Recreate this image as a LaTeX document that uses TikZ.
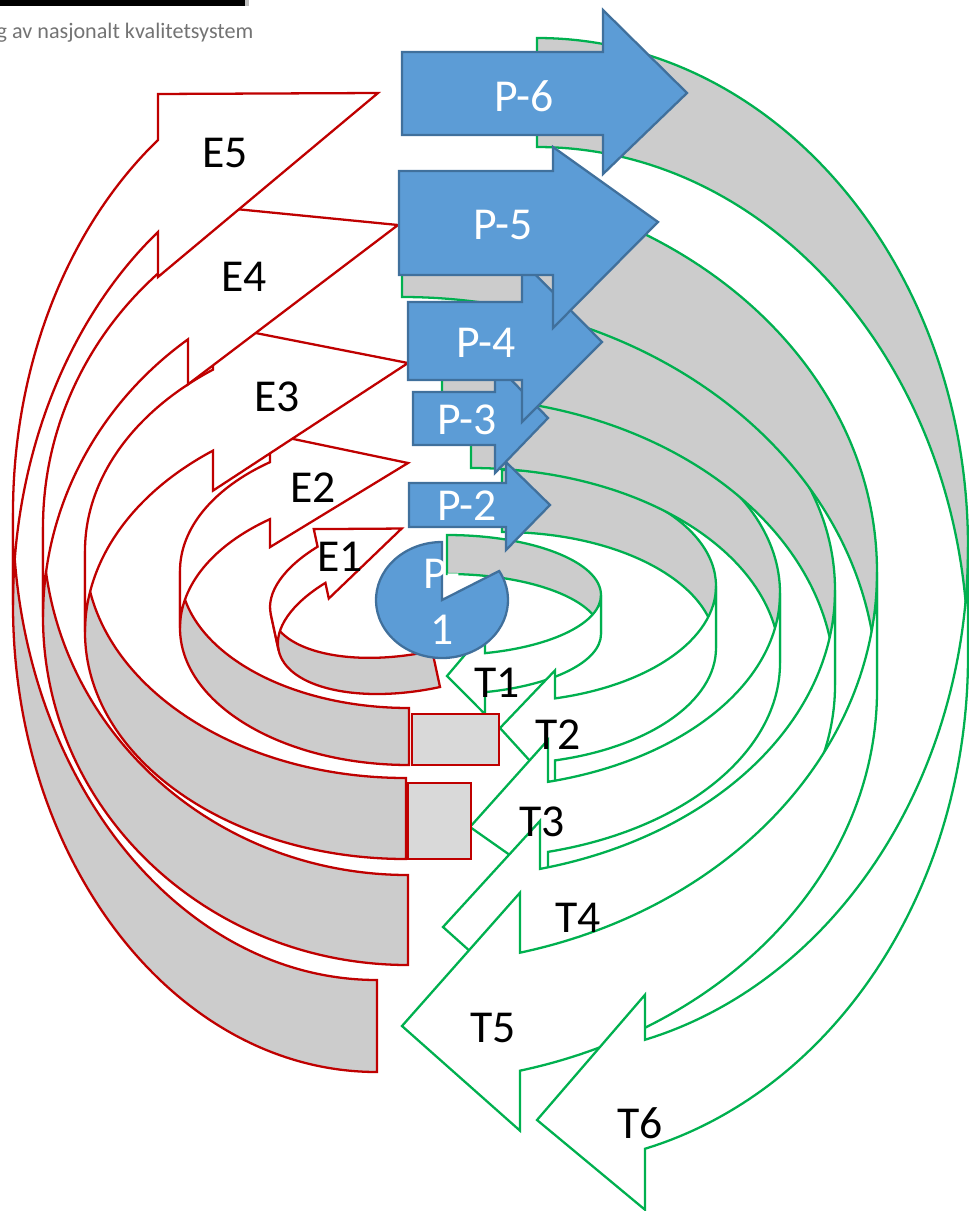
\documentclass[tikz,border=0pt]{standalone}
\usepackage{fontspec}
\setmainfont{Carlito}
\usepackage{tikz}
\usetikzlibrary{calc}
\definecolor{ribgreen}{rgb}{0.0, 0.69, 0.31}
\definecolor{ribred}{rgb}{0.75, 0.0, 0.0}
\definecolor{ribback}{rgb}{0.8, 0.8, 0.8}
\definecolor{capgray}{rgb}{0.85, 0.85, 0.85}
\definecolor{stepblue}{rgb}{0.36, 0.61, 0.84}
\definecolor{stepedge}{rgb}{0.25, 0.44, 0.61}
\tikzset{
  back/.style={fill=ribback, line width=0.65pt},
  front/.style={fill=white, line width=0.65pt},
  pstep/.style={fill=stepblue, draw=stepedge, line width=0.65pt},
  plabel/.style={text=white, inner sep=0pt, font=\fontsize{13}{16}\selectfont},
  rlabel/.style={inner sep=0pt, font=\fontsize{13}{16}\selectfont},
}

\begin{document}
\begin{tikzpicture}[x=0.1mm, y=-0.1mm]
  \useasboundingbox (0,0) rectangle (968,1211);

  \fill[black] (0,0) rectangle (245,6);
  \fill[black!25] (245,0) rectangle (249,6);
  \node[anchor=west, text=black!55, inner sep=0pt, font=\fontsize{6.3}{7}\selectfont] (head) at (-4,33) {g av nasjonalt kvalitetsystem};

  % ribbons: x / y / rotation / x radius / y radius / width / head base / tip x / tip y / head in / head out / colour
  \foreach \cx/\cy/\rot/\rx/\ry/\bw/\hx/\tipx/\tipy/\du/\dl/\col in
  {
    447/535/0/154/60/39/38/0/141/22/22/ribgreen,
    502/470/0/214/116/62/53/-2/258/28/28/ribgreen,
    471/398/0/309/195/70/77/-1/429/42/30/ribgreen,
    442/302/0/393/288/95/98/1/625/48/50/ribgreen,
    402/179/0/475/393/118/118/0/847/60/60/ribgreen,
    537/38/0/431/509/109/108/0/1082/45/61/ribgreen,
    440/687/192.2/150/70/37/90/4/163/16/18/ribred,
    409/765/180/229/137/57/139/1/302/28/28/ribred,
    406/859/180/321/227/81/193/-2/496/40/45/ribred,
    408/965/180/365/348/90/220/10/740/45/45/ribred,
    377/1072/180/364/467/92/219/-1/979/45/46/ribred}
  {
    \pgfmathsetmacro\ang{acos(\hx/\rx)}
    \pgfmathsetmacro\hy{\ry*(1+sin(\ang))}
    \begin{scope}[shift={(\cx,\cy)}, rotate=\rot]
      \filldraw[back, draw=\col] (0,0) arc[start angle=-90, end angle=0, x radius=\rx, y radius=\ry]
        -- ++(0,\bw) arc[start angle=0, end angle=-90, x radius=\rx, y radius=\ry] -- cycle;
      \filldraw[front, draw=\col] (\tipx,\tipy) -- (\hx,\hy-\du) -- (\hx,\hy)
        arc[start angle=\ang, end angle=0, x radius=\rx, y radius=\ry]
        -- ++(0,\bw) arc[start angle=0, end angle=\ang, x radius=\rx, y radius=\ry]
        -- ++(0,\dl) -- cycle;
    \end{scope}
  }

  \filldraw[fill=capgray, draw=ribred, line width=0.65pt] (412,714) rectangle (499,765);
  \filldraw[fill=capgray, draw=ribred, line width=0.65pt] (408,783) rectangle (471,859);

  \foreach \lab/\x/\y in {E1/340/557, E2/313/488, E3/277/397, E4/244/277, E5/225/153,
    T1/497/683, T2/558/735, T3/542/822, T4/578/918, T5/493/1028, T6/640/1123}
    \node[rlabel] (\lab) at (\x,\y) {\lab};

  % P-1
  \filldraw[pstep] (442,600) -- ++(-30:66 and 58) arc[start angle=-30, end angle=270, x radius=66, y radius=58] -- cycle;
  \node[plabel, align=center] (p1) at (442,602) {P-\\1};

  \foreach \pid/\xl/\yt/\yb/\hx/\htop/\hbot/\tx/\ty/\lx/\ly in
  {
    2/409/483/527/506/462/550/550/505/467/506,
    3/413/392/445/495/363/473/548/418/467/420,
    4/408/302/380/522/261/422/602/342/486/343,
    5/399/171/275/553/147/328/658/222/503/225,
    6/402/52/135/603/10/174/687/93/524/96}
  {
    \filldraw[pstep] (\xl,\yt) -- (\hx,\yt) -- (\hx,\htop) -- (\tx,\ty) -- (\hx,\hbot) -- (\hx,\yb) -- (\xl,\yb) -- cycle;
    \node[plabel] (p\pid) at (\lx,\ly) {P-\pid};
  }

\end{tikzpicture}
\end{document}
